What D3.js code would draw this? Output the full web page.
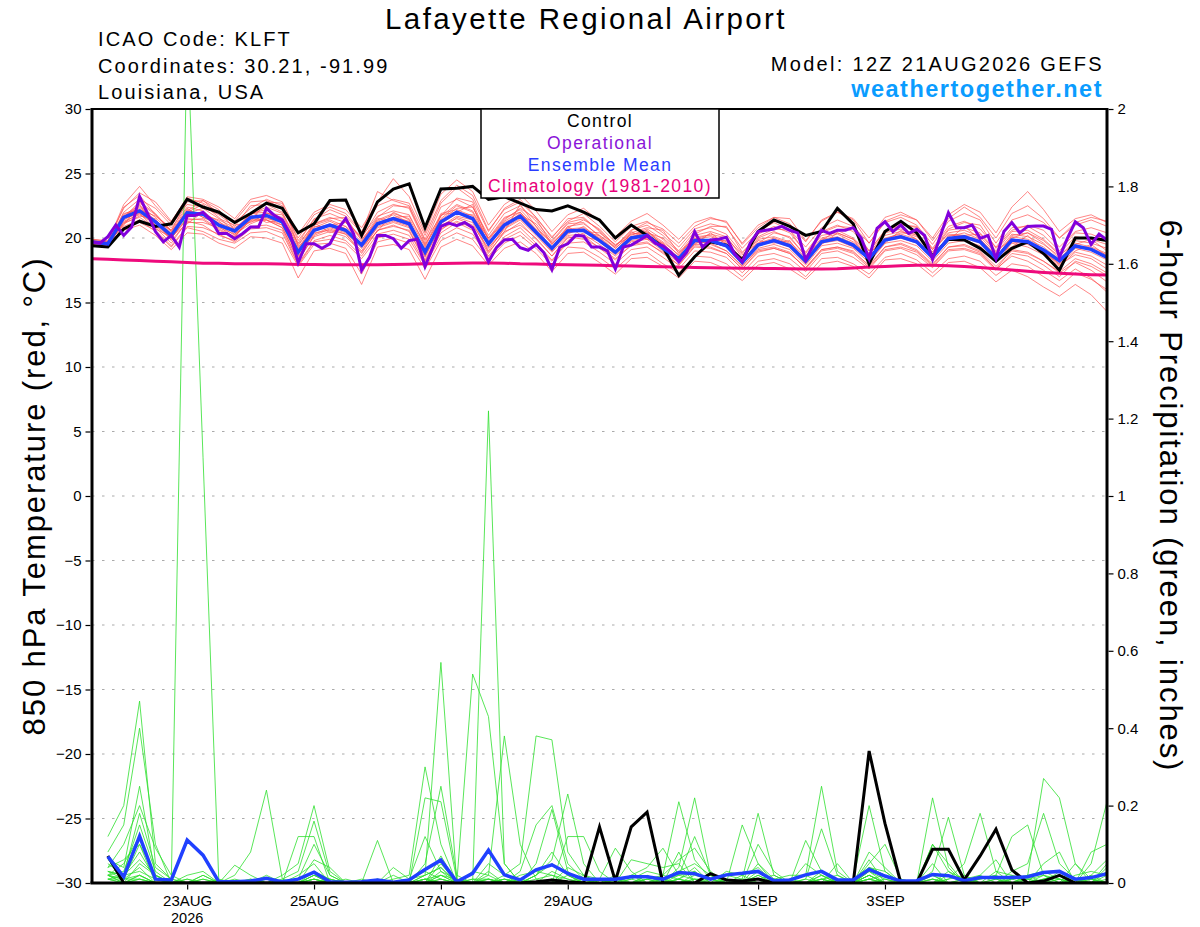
<!DOCTYPE html>
<html lang="en">
<head>
<meta charset="UTF-8" />
<title>Lafayette Regional Airport - GEFS</title>
<script src="https://d3js.org/d3.v7.min.js"></script>
<style>
  body { margin: 0; background: #fff; font-family: "Liberation Sans", Arial, sans-serif; }
  svg text { font-family: "Liberation Sans", Arial, sans-serif; }
</style>
</head>
<body>
<div id="chart"></div>
<script>
// ---- data (6-hourly from 21AUG2026 12Z unless noted) ----
var startTime = Date.UTC(2026, 7, 21, 12);
var endTime = Date.UTC(2026, 8, 6, 12);

var xTickDates = ["2026-08-23", "2026-08-25", "2026-08-27", "2026-08-29", "2026-09-01", "2026-09-03", "2026-09-05"];
var xTickLabels = ["23AUG", "25AUG", "27AUG", "29AUG", "1SEP", "3SEP", "5SEP"];
var tempTicks = [30, 25, 20, 15, 10, 5, 0, -5, -10, -15, -20, -25, -30];
var precipTicks = [2, 1.8, 1.6, 1.4, 1.2, 1, 0.8, 0.6, 0.4, 0.2, 0];

// 850 hPa temperature, control run
var tempControl = [19.4, 19.3,20.7,21.3,20.9, 21.1,23.0,22.4,22.0, 21.2,21.9,22.7,22.3, 20.4,21.1,22.9,22.95,
  20.2,22.8,23.8,24.2, 20.8,23.8,23.85,24.0, 23.0,23.2,22.7,22.2, 22.1,22.5,22.0,21.4, 20.0,21.0,20.2,19.3,
  17.1,18.55,19.7,19.45, 18.3,20.5,21.4,20.9, 20.2,20.5,22.3,21.1, 18.0,20.5,21.3,20.4, 18.6,19.9,19.85,19.2,
  18.2,19.2,19.7,18.8, 17.5,20.0,20.0,19.8];

// operational run, 3-hourly
var tempOperational = [19.7,19.6,20.1,21.0,20.2,20.85,23.2,21.9,
  20.5,19.7,20.2,19.3,21.75,21.75,22.0,21.4,
  20.35,20.35,19.95,20.35,20.85,20.85,22.3,21.75,
  21.4,20.3,18.1,19.55,19.55,19.2,19.55,20.7,
  21.5,20.3,17.5,18.5,20.2,20.2,19.95,19.2,
  19.8,19.9,17.8,19.3,20.9,21.15,20.95,21.2,
  20.8,19.5,18.15,19.25,19.85,19.9,19.25,19.05,
  19.5,18.85,17.55,19.3,19.55,20.2,20.15,19.3,
  19.3,19.0,17.6,19.3,19.45,19.8,20.2,19.6,
  19.4,18.9,18.15,18.9,20.5,19.3,19.85,19.9,
  20.05,18.8,18.15,19.6,20.5,20.6,20.7,20.9,
  20.6,20.4,18.3,19.5,20.6,20.36,20.6,20.6,
  20.8,20.0,18.4,20.75,21.26,20.5,21.0,20.36,
  20.67,20.2,18.35,20.2,21.96,20.8,20.8,21.0,
  19.97,20.2,18.4,20.5,21.2,20.4,20.9,20.93,
  20.93,20.67,18.5,19.97,21.26,20.8,19.5,20.3,
  19.84];

var tempMean = [19.7, 19.55,21.6,22.1,21.25, 20.2,21.95,21.85,21.0, 20.55,21.6,21.75,21.25, 18.9,20.6,21.0,20.6,
  19.45,21.1,21.5,21.1, 18.9,21.25,22.0,21.5, 19.55,21.0,21.7,20.45, 19.2,20.55,20.6,19.8, 18.9,20.0,20.2,19.2,
  18.4,19.8,19.8,19.4, 18.1,19.45,19.8,19.4, 18.2,19.7,19.95,19.45, 18.4,19.84,20.1,19.71, 18.5,19.97,20.1,19.71,
  18.42,19.84,19.71,19.07, 18.24,19.38,19.12,18.5];

var tempClimatology = [18.4, 18.35,18.3,18.25,18.2, 18.15,18.1,18.05,18.05, 18.0,18.0,18.0,17.98, 17.95,17.95,17.93,17.92,
  17.92,17.93,17.95,17.97, 18.0,18.02,18.05,18.07, 18.07,18.05,18.0,17.98, 17.95,17.93,17.9,17.88, 17.85,17.83,17.8,17.78,
  17.75,17.72,17.7,17.68, 17.66,17.65,17.63,17.62, 17.6,17.6,17.62,17.68, 17.75,17.8,17.85,17.88, 17.88,17.85,17.8,17.72,
  17.62,17.52,17.42,17.33, 17.26,17.2,17.16,17.13];

// perturbed ensemble members (red)
var tempMembers = [
  [19.8, 19.6,22.0,23.0,22.3, 21.0,22.6,22.4,21.8, 20.9,22.5,22.6,22.0, 19.6,21.5,21.9,21.4, 20.0,22.0,22.6,22.3, 19.6,22.4,23.0,22.4, 20.2,21.9,22.5,21.3, 19.8,21.2,21.5,20.6, 19.4,20.6,21.0,20.2, 19.0,20.5,20.8,20.3, 18.8,20.3,20.9,20.4, 18.9,20.5,21.0,20.5, 19.0,20.6,21.1,20.8, 19.2,20.9,21.3,20.7, 19.3,20.8,20.9,20.2, 19.0,20.4,20.3,19.8],
  [19.6, 19.4,21.2,21.6,20.8, 19.6,21.3,21.0,20.2, 19.8,20.9,21.0,20.6, 18.0,19.8,20.2,19.8, 18.6,20.3,20.6,20.2, 18.0,20.4,21.2,20.6, 18.6,20.1,20.8,19.6, 18.3,19.6,19.7,18.9, 18.0,19.1,19.3,18.5, 17.6,19.0,18.9,18.5, 17.3,18.6,18.8,18.4, 17.4,18.8,19.0,18.5, 17.6,19.0,19.2,18.7, 17.7,19.0,19.1,18.7, 17.5,18.8,18.6,17.9, 17.0,18.2,17.8,17.1],
  [19.9, 19.7,22.4,23.3,21.8, 20.6,22.8,22.9,21.9, 21.2,22.3,23.0,22.5, 19.8,21.4,22.2,21.7, 20.4,23.6,22.9,22.5, 19.9,22.7,23.9,23.0, 20.5,22.3,23.0,21.6, 20.1,21.3,21.9,20.9, 19.7,20.9,21.3,20.4, 19.3,20.7,21.1,20.8, 19.2,20.5,21.2,20.6, 19.3,20.8,21.4,20.9, 19.6,21.3,21.8,21.4, 19.8,21.5,22.4,21.6, 20.0,21.9,22.5,21.5, 20.0,21.0,21.4,20.9],
  [19.5, 19.3,20.9,21.4,20.5, 19.3,20.8,20.5,19.9, 19.6,20.4,20.5,20.0, 17.8,19.5,19.6,19.2, 17.2,19.7,20.0,19.6, 17.6,19.8,20.4,19.9, 18.3,19.6,20.2,19.2, 17.9,19.3,19.2,18.5, 17.6,18.7,18.9,18.0, 17.3,18.6,18.5,18.0, 17.0,18.2,18.4,18.0, 17.0,18.4,18.5,18.0, 17.2,18.5,18.8,18.3, 17.3,18.4,18.6,18.2, 17.1,18.0,17.8,17.0, 16.2,17.3,16.8,16.0],
  [19.7, 19.6,21.8,22.5,21.6, 20.4,22.2,21.6,21.2, 20.7,21.9,22.2,21.4, 19.2,21.0,21.4,20.9, 19.7,21.4,21.9,21.5, 19.3,21.7,22.6,22.1, 19.9,21.5,22.2,20.9, 19.5,20.9,21.1,20.2, 19.2,20.3,20.5,19.7, 18.7,20.1,20.2,19.7, 18.4,19.9,20.1,19.7, 18.5,20.0,20.3,19.7, 18.7,20.2,20.5,20.1, 18.9,20.4,20.6,20.1, 18.8,20.3,20.1,19.5, 18.6,19.8,19.6,19.2],
  [19.6, 19.5,21.4,22.0,21.0, 20.0,21.6,21.9,21.3, 20.3,21.3,21.4,21.0, 18.6,20.3,20.8,20.4, 19.2,20.8,21.2,20.8, 18.5,21.0,21.5,21.0, 19.2,20.7,21.4,20.2, 18.9,20.2,20.3,19.5, 18.6,19.7,19.9,19.0, 18.1,19.5,19.5,19.0, 17.8,19.2,19.5,19.1, 17.9,19.4,19.6,19.2, 18.1,19.6,19.8,19.4, 18.2,19.6,19.8,19.4, 18.1,19.6,19.3,18.7, 17.8,18.9,18.6,17.9],
  [19.8, 19.7,22.6,24.0,22.5, 21.2,23.2,23.0,22.4, 21.5,23.0,23.3,22.8, 20.3,22.0,22.6,22.2, 20.8,22.8,24.6,23.2, 20.4,23.4,24.5,23.6, 21.0,22.6,23.4,22.1, 20.5,21.8,22.3,21.3, 20.1,21.3,21.9,21.0, 19.9,21.2,21.6,21.2, 19.6,21.0,21.6,21.1, 19.7,21.4,22.0,21.5, 20.0,21.6,22.0,21.4, 20.0,21.8,22.6,22.0, 20.4,22.4,23.6,22.2, 20.5,21.5,21.8,21.2],
  [19.5, 19.4,20.6,21.0,20.2, 19.1,20.4,20.3,19.6, 19.2,20.1,20.0,19.6, 16.9,19.0,19.2,18.8, 16.4,19.3,19.5,19.1, 16.8,19.3,19.9,19.4, 17.9,19.2,19.7,18.8, 17.4,18.8,18.9,18.1, 17.2,18.4,18.5,17.8, 16.9,18.2,18.1,17.6, 16.7,17.9,18.1,17.6, 16.8,18.0,18.2,17.8, 16.9,18.3,18.4,18.0, 17.0,18.1,18.2,17.7, 16.6,17.5,17.0,16.2, 15.5,16.4,15.6,14.3],
  [19.7, 19.5,21.7,22.4,21.4, 20.3,21.9,22.3,21.5, 21.0,21.2,21.9,21.8, 19.3,20.5,21.0,21.2, 19.9,21.2,21.6,21.7, 19.5,21.4,22.3,22.4, 20.0,21.2,21.8,21.1, 19.6,20.7,20.5,20.4, 19.5,20.1,20.4,20.0, 18.9,19.9,20.3,20.0, 18.7,19.6,20.4,20.1, 18.6,19.8,20.6,20.0, 18.8,19.9,20.4,20.3, 19.1,20.3,20.2,20.3, 18.9,20.0,20.4,19.8, 18.7,19.5,19.9,19.0],
  [19.6, 19.4,21.3,21.8,21.1, 20.0,21.5,21.4,20.6, 20.1,21.5,21.4,20.8, 18.3,20.1,20.5,20.1, 18.9,20.6,21.0,20.5, 18.2,20.6,21.6,21.2, 18.9,20.4,21.2,19.9, 18.6,20.0,20.2,19.2, 18.3,19.5,19.7,18.8, 17.9,19.3,19.2,18.8, 17.6,19.0,19.2,18.8, 17.7,19.1,19.3,18.9, 17.9,19.3,19.6,19.1, 18.0,19.3,19.5,19.0, 17.8,19.0,18.8,18.2, 17.4,18.4,18.0,17.3],
  [19.8, 19.6,21.9,22.2,21.7, 20.8,22.4,22.1,21.1, 20.6,21.8,22.4,21.9, 19.5,21.1,21.6,21.2, 20.1,21.7,22.1,21.8, 19.4,21.9,22.2,21.7, 20.0,21.6,22.0,20.7, 19.7,21.1,21.2,20.1, 19.0,20.2,20.7,19.9, 18.6,20.2,20.5,20.1, 18.5,20.0,20.5,20.0, 18.6,20.2,20.4,19.9, 18.8,20.4,20.7,20.2, 18.9,20.6,20.8,20.4, 19.0,20.5,20.6,19.9, 18.8,20.1,19.9,19.5],
  [19.6, 19.5,21.1,21.7,21.5, 19.8,21.2,21.2,20.8, 20.3,21.1,21.6,21.0, 18.5,20.4,20.6,20.3, 19.0,20.9,21.3,20.9, 18.6,20.9,21.7,21.4, 19.0,20.8,21.5,20.3, 19.0,20.4,20.6,19.7, 18.7,19.8,20.0,19.3, 18.2,19.6,19.7,19.3, 18.0,19.4,19.7,19.3, 18.0,19.6,19.8,19.3, 18.3,19.8,20.0,19.6, 18.4,19.9,20.0,19.6, 18.3,19.7,19.5,18.9, 18.0,19.2,18.9,18.3],
  [19.7, 19.6,21.6,22.8,21.9, 20.5,22.1,21.8,21.4, 20.8,21.6,21.9,21.6, 19.0,20.8,21.3,20.7, 19.5,21.3,21.8,21.2, 19.0,21.5,22.5,22.0, 19.6,21.3,22.0,20.6, 19.3,20.7,20.8,20.0, 19.0,20.1,20.3,19.5, 18.5,19.9,20.1,19.6, 18.3,19.6,20.0,19.6, 18.3,19.9,20.1,19.6, 18.5,20.0,20.3,19.9, 18.6,20.1,20.4,19.9, 18.5,20.1,19.9,19.3, 18.3,19.4,19.2,18.7],
  [19.5, 19.6,21.0,22.6,20.9, 19.9,22.0,22.6,21.6, 20.4,21.8,21.2,21.4, 18.7,21.2,20.4,20.9, 19.3,20.5,22.0,21.4, 18.7,21.8,22.0,22.6, 19.3,20.5,22.6,20.9, 19.1,20.9,20.1,19.8, 18.8,20.5,19.9,19.6, 18.3,19.5,20.4,19.5, 17.9,19.8,19.6,19.8, 18.1,19.5,20.4,19.9, 18.3,19.6,20.6,19.9, 18.6,19.8,20.9,19.9, 18.7,19.3,20.2,19.0, 18.0,19.0,19.5,18.6],
  [19.8, 19.5,21.5,21.9,20.7, 20.1,21.1,22.0,20.9, 20.0,21.9,22.0,21.2, 19.1,20.9,20.9,20.5, 19.6,21.5,21.4,21.0, 19.2,21.1,21.9,21.8, 19.4,21.1,21.6,20.4, 19.2,20.3,20.9,19.9, 18.9,19.9,20.6,19.4, 18.4,20.0,19.8,19.8, 18.2,19.4,19.9,19.5, 18.4,19.7,19.9,19.5, 18.5,19.9,20.2,19.6, 18.5,20.2,20.2,19.8, 18.6,19.8,19.6,18.9, 17.9,18.7,18.4,17.6],
  [19.6, 19.4,21.7,22.3,21.3, 20.6,22.3,21.6,21.0, 20.2,22.0,21.5,21.3, 18.8,20.7,21.1,20.6, 19.3,21.0,21.6,21.3, 18.8,21.3,22.1,21.4, 19.4,21.0,21.9,20.6, 19.0,20.6,20.7,19.9, 18.8,20.0,20.1,19.2, 18.2,19.7,19.9,19.5, 18.1,19.5,19.9,19.5, 18.2,19.8,20.0,19.5, 18.4,19.9,20.1,19.7, 18.4,20.0,20.1,19.7, 18.4,20.2,20.4,19.6, 18.4,19.6,19.3,18.8],
  [19.9, 19.8,22.3,23.5,22.8, 21.3,23.1,22.7,22.0, 21.3,22.8,22.9,22.3, 20.0,21.8,22.4,21.9, 20.5,22.5,23.0,22.7, 20.2,22.9,24.1,23.3, 20.6,22.2,22.8,21.6, 20.0,21.5,21.6,20.5, 19.2,20.3,20.4,19.6, 18.3,19.7,19.6,19.0, 17.8,19.1,19.3,18.9, 17.6,19.0,19.2,18.8, 17.7,19.1,19.3,18.9, 17.8,19.1,19.2,18.8, 17.6,18.6,18.2,17.5, 16.7,17.6,16.9,15.8],
  [19.5, 19.3,20.8,21.2,20.6, 19.4,20.9,20.8,20.3, 19.7,20.7,20.8,20.4, 17.9,19.7,19.9,19.6, 18.4,20.0,20.3,19.9, 17.9,20.1,20.8,20.3, 18.5,19.9,20.5,19.4, 18.2,19.8,20.4,20.2, 19.3,20.6,21.2,20.7, 19.6,20.9,21.5,21.3, 19.5,20.8,21.6,21.5, 19.8,21.3,22.0,21.4, 19.6,21.2,21.6,21.0, 19.5,21.3,21.9,21.4, 19.6,21.4,21.8,21.2, 20.0,21.2,21.6,21.3],
  [19.7, 19.5,21.5,22.7,21.8, 20.5,22.1,22.9,22.2, 20.6,21.3,22.8,22.7, 19.4,21.1,21.5,21.6, 19.8,21.6,22.5,22.4, 19.8,21.7,23.1,22.8, 19.8,21.4,22.3,21.5, 19.5,20.8,21.4,20.7, 19.4,20.4,20.8,20.6, 18.8,20.3,20.9,20.9, 18.9,20.1,20.7,20.6, 18.8,20.4,20.9,20.8, 19.0,20.5,21.0,20.9, 19.1,20.7,21.2,21.0, 19.2,20.6,21.0,20.6, 19.3,20.5,20.8,20.4],
  [19.6, 19.5,21.2,21.9,21.2, 20.1,21.4,21.5,20.7, 20.1,21.4,21.4,20.8, 18.2,20.2,20.7,20.3, 18.8,20.6,20.9,20.6, 18.3,20.7,21.3,20.8, 18.8,20.5,21.0,20.0, 18.6,20.1,19.9,19.3, 18.4,19.4,19.6,18.9, 17.9,19.4,19.3,18.8, 17.6,18.9,19.2,18.8, 17.7,19.1,19.3,19.0, 17.8,19.3,19.5,19.0, 17.9,19.3,19.4,18.9, 17.6,19.1,18.9,18.2, 17.3,18.1,17.5,16.6]
];

// 6-hour precipitation (inches), periods ending 21AUG 18Z ... 6SEP 12Z
var precipControl = [0.07,0,0,0, 0,0,0,0, 0,0,0,0, 0,0,0,0, 0,0,0,0, 0,0,0,0, 0,0,0,0.003,
  0.008,0.003,0,0.145, 0.005,0.145,0.183,0, 0,0,0.024,0.008, 0.005,0.01,0,0, 0,0,0,0,
  0.341,0.154,0,0, 0.087,0.087,0.008,0.07, 0.139,0.034,0,0.005, 0.02,0,0,0];

var precipMean = [0.068,0.016,0.121,0.01, 0.008,0.111,0.072,0.003, 0.003,0.005,0.012,0.003, 0.01,0.028,0.003,0.002,
  0.003,0.008,0.002,0.008, 0.035,0.059,0.003,0.025, 0.085,0.021,0.008,0.034, 0.047,0.025,0.01,0.01,
  0.01,0.016,0.016,0.01, 0.027,0.024,0.01,0.021, 0.025,0.03,0.006,0.008, 0.021,0.03,0.008,0.008,
  0.035,0.018,0.005,0.006, 0.022,0.019,0.006,0.014, 0.014,0.014,0.016,0.027, 0.03,0.01,0.014,0.024];

var precipMembers = [
  [.12,.2,.47,.05, .01,0,0,0, .02,.08,.24,.01, 0,.01,0,0, 0,0,.01,.02, .3,.1,0,0, .01,0,.02,.03, .02,.01,0,0, 0,.01,.03,.02, .21,.06,.01,0, 0,.02,0,0, .01,0,0,0, .02,0,.01,0, 0,.01,.02,0, .01,0,.02,.27, .22,.05,.01,0],
  [.08,.15,.4,.1, 0,2.2,1.1,0, 0,0,.01,0, .02,.05,0,0, 0,.01,0,0, .02,.57,0,.01, 0,.01,0,0, 0,0,.01,0, 0,0,0,.01, .02,.03,0,0, .01,0,0,.01, .02,.25,.03,0, .01,0,0,0, .01,0,0,0, 0,.01,.02,.03, .01,0,.05,.21],
  [.06,.04,.25,.02, 0,.02,.03,0, 0,.01,0,.02, .05,.2,.03,0, 0,0,0,.01, .02,.04,0,.54, .43,.05,0,.01, .02,0,0,.01, 0,0,.02,0, .03,.05,.02,0, 0,0,.01,.02, .02,0,0,.01, .2,.03,0,0, .22,.04,0,.02, 0,0,.01,0, .02,.01,0,.03],
  [.03,.02,.18,.04, .01,0,0,.01, 0,0,.02,0, 0,.02,.01,0, 0,0,0,0, 0,.03,.01,0, 1.22,.05,0,0, .01,0,0,0, .02,0,.01,0, .04,.22,.02,0, 0,.01,0,0, 0,.01,.02,0, .03,.01,0,0, 0,.01,.05,.18, .03,0,0,.01, .02,0,0,.01],
  [.02,.05,.12,.01, 0,0,.02,0, 0,0,0,.01, .03,.16,.02,0, 0,0,.02,0, .01,.02,0,.03, .02,.38,.1,.01, 0,0,0,.01, 0,.01,0,0, .01,0,.01,.02, .01,.18,.02,0, 0,0,0,0, .01,.02,0,0, .02,0,0,.01, .02,.12,.15,.02, 0,0,.01,0],
  [.04,.1,.2,.09, .02,0,0,0, 0,0,0,0, 0,.01,0,.01, 0,0,0,0, 0,.02,.01,0, 0,.02,.05,.38, .37,.08,.02,0, 0,0,.01,.02, .01,0,0,.01, 0,.02,0,0, .01,.14,.02,0, 0,0,0,0, .01,0,0,0, 0,0,.01,.02, .01,0,.08,.1],
  [.02,.03,.15,.03, 0,.01,0,0, 0,0,.01,0, 0,0,.01,0, 0,.11,0,0, .01,0,0,0, .01,0,0,.02, .06,.23,.05,0, .01,0,0,.01, 0,.02,.01,0, .15,.05,.01,0, 0,0,0,.01, .04,.02,0,0, .03,.17,.02,0, 0,0,0,.01, .02,0,0,0],
  [.05,.02,.08,.01, 0,0,0,0, 0,0,0,0, .12,.12,0,0, 0,0,0,0, .05,.25,.02,0, .01,0,0,.05, .19,.03,0,0, 0,0,0,0, .01,.03,0,0, 0,.01,.02,0, 0,.02,0,0, .05,.1,.01,0, 0,0,.01,0, 0,.03,.05,.18, .05,.01,0,.02],
  [.02,.01,.1,0, 0,0,.02,0, 0,0,0,0, 0,.02,0,0, 0,0,0,0, .22,.21,.01,0, .02,0,.03,.15, .2,.05,.01,0, 0,.02,0,0, 0,.01,.01,0, 0,0,0,0, .11,.03,0,0, .02,0,0,0, .1,.03,0,0, 0,0,0,0, 0,.02,.03,.02],
  [.03,.02,.06,.02, 0,0,0,0, 0,.01,0,0, 0,.03,.01,0, 0,0,0,0, 0,.05,0,0, 0,.01,0,0, 0,.12,.12,.03, 0,.02,.04,.09, .02,.12,.02,0, 0,0,0,0, 0,.01,0,0, .03,0,0,0, 0,0,.01,.02, .06,0,0,0, 0,.01,0,0],
  [.01,.01,.04,0, 0,0,.01,0, .046,.02,0,0, 0,0,0,0, 0,0,0,0, 0,.07,0,0, 0,0,.01,0, 0,0,.02,.01, .09,.03,0,0, 0,0,0,0, 0,0,.01,0, 0,0,.05,0, .01,0,0,0, 0,.02,0,0, 0,.02,.01,0, 0,.05,0,0],
  [.02,0,.05,.02, 0,0,.01,0, 0,0,0,0, .01,.1,.02,0, 0,0,0,.01, .03,.01,0,0, .05,.02,0,0, 0,.04,.02,0, 0,.06,.05,.04, .05,0,0,0, .02,.04,0,0, 0,.03,0,0, .08,.04,0,0, .02,0,0,0, .01,0,0,0, .03,0,0,.04],
  [.01,.02,.03,.01, 0,0,0,0, .01,0,0,0, 0,0,0,0, 0,.01,0,0, .01,0,0,0, 0,0,0,.02, .08,.02,0,0, 0,0,0,0, .02,.01,0,.03, .02,0,.01,0, 0,.01,0,0, .04,.02,0,0, 0,.03,.01,0, 0,.01,0,0, .01,0,.02,0],
  [.01,0,.02,0, 0,0,0,0, 0,0,0,0, 0,.06,.04,0, 0,0,0,0, 0,.01,0,0, 0,.01,0,0, 0,0,0,0, .01,0,.02,0, .08,0,0,0, 0,.1,.03,0, 0,.02,0,0, 0,.01,0,0, .05,0,0,0, 0,0,0,.01, .02,0,.01,0],
  [.03,.01,.02,0, 0,0,0,0, 0,0,0,0, 0,0,0,0, .01,0,0,0, 0,.02,0,.01, .01,0,0,0, .03,.01,0,0, 0,0,0,0, .01,.04,0,0, 0,0,0,0, 0,0,.01,0, .06,0,0,0, 0,0,0,.01, .02,0,0,0, 0,0,0,.05],
  [.02,.01,.01,0, 0,0,0,0, 0,0,0,0, 0,.02,0,0, 0,0,0,0, .02,.04,0,0, .03,0,0,0, .01,0,0,0, 0,0,0,0, 0,.01,0,0, 0,0,0,.01, 0,0,0,0, .02,0,0,0, .01,0,0,0, 0,0,.02,0, 0,.01,0,0],
  [.01,0,.02,0, 0,0,0,0, 0,0,0,0, 0,0,0,0, 0,0,0,0, 0,.01,0,0, 0,0,0,0, 0,.02,0,0, 0,0,.01,0, 0,0,0,0, 0,.03,0,0, 0,0,0,0, .01,0,0,0, 0,0,0,0, 0,0,0,.02, 0,0,0,0],
  [.02,0,.01,0, 0,0,0,0, 0,0,0,0, 0,.01,0,0, 0,0,0,0, 0,0,0,0, 0,0,.01,0, 0,0,0,0, 0,0,0,0, .01,0,0,0, 0,0,0,0, 0,.01,0,0, 0,0,0,0, 0,0,0,0, 0,0,0,0, .01,0,0,0],
  [0,0,.01,0, 0,0,0,0, 0,0,0,0, 0,0,0,0, 0,0,0,0, .01,0,0,0, 0,0,0,0, 0,0,0,0, 0,0,0,0, 0,0,0,0, 0,0,0,0, 0,0,0,0, .02,0,0,0, 0,0,0,0, 0,0,0,0, 0,0,0,0],
  [.04,.06,.1,.02, 0,.01,0,0, 0,0,0,0, 0,.01,0,0, 0,0,.04,.01, .12,.03,0,0, 0,0,0,.02, .05,.02,0,0, 0,0,0,.02, .06,.09,.03,0, 0,.05,0,0, .05,.02,0,0, .04,.03,0,0, .1,.05,0,0, .03,.02,0,.05, .08,0,.02,.06]
];

// ---- layout ----
var w = 1200, h = 927;
var plotLeft = 92, plotRight = 1107, plotTop = 109, plotBottom = 883;

var svg = d3.select("#chart").append("svg")
    .attr("width", w)
    .attr("height", h)
    .style("display", "block");

svg.append("rect").attr("width", w).attr("height", h).attr("fill", "#fff");

var x = d3.scaleUtc()
    .domain([new Date(startTime), new Date(endTime)])
    .range([plotLeft, plotRight]);
var yT = d3.scaleLinear().domain([-30, 30]).range([plotBottom, plotTop]);
var yP = d3.scaleLinear().domain([0, 2]).range([plotBottom, plotTop]);

function timeAt(i, stepHours) {
    return new Date(startTime + i * stepHours * 3600 * 1000);
}

// clip region for data
svg.append("clipPath").attr("id", "plotClip")
    .append("rect")
    .attr("x", plotLeft).attr("y", plotTop)
    .attr("width", plotRight - plotLeft).attr("height", plotBottom - plotTop);

// dotted grid lines on the temperature ticks
svg.append("g").selectAll("line")
    .data(tempTicks.filter(function(d) { return d > -30 && d < 30; }))
    .enter().append("line")
    .attr("x1", plotLeft).attr("x2", plotRight)
    .attr("y1", function(d) { return yT(d); })
    .attr("y2", function(d) { return yT(d); })
    .attr("stroke", "#aaa")
    .attr("stroke-width", 1.2)
    .attr("stroke-dasharray", "2.5,7.5");

var dataG = svg.append("g").attr("clip-path", "url(#plotClip)");

// line generators
var tempLine6h = d3.line()
    .x(function(d, i) { return x(timeAt(i, 6)); })
    .y(function(d) { return yT(d); });
var tempLine3h = d3.line()
    .x(function(d, i) { return x(timeAt(i, 3)); })
    .y(function(d) { return yT(d); });
var precipLine = d3.line()
    .x(function(d, i) { return x(timeAt(i + 1, 6)); })
    .y(function(d) { return yP(d); });

// ensemble members
dataG.append("g").selectAll("path")
    .data(tempMembers)
    .enter().append("path")
    .attr("d", tempLine6h)
    .attr("fill", "none")
    .attr("stroke", "#ff4d4d")
    .attr("stroke-width", 0.8)
    .attr("stroke-opacity", 0.85);

dataG.append("g").selectAll("path")
    .data(precipMembers)
    .enter().append("path")
    .attr("d", precipLine)
    .attr("fill", "none")
    .attr("stroke", "#2ee02e")
    .attr("stroke-width", 0.8);

// climatology, control, mean, operational
dataG.append("path").datum(tempClimatology)
    .attr("d", tempLine6h).attr("fill", "none")
    .attr("stroke", "#ee0a7c").attr("stroke-width", 3);

dataG.append("path").datum(precipControl)
    .attr("d", precipLine).attr("fill", "none")
    .attr("stroke", "#000").attr("stroke-width", 3);
dataG.append("path").datum(precipMean)
    .attr("d", precipLine).attr("fill", "none")
    .attr("stroke", "#2040ff").attr("stroke-width", 3.5);

dataG.append("path").datum(tempControl)
    .attr("d", tempLine6h).attr("fill", "none")
    .attr("stroke", "#000").attr("stroke-width", 3);
dataG.append("path").datum(tempMean)
    .attr("d", tempLine6h).attr("fill", "none")
    .attr("stroke", "#2040ff").attr("stroke-width", 3.5);
dataG.append("path").datum(tempOperational)
    .attr("d", tempLine3h).attr("fill", "none")
    .attr("stroke", "#8200dc").attr("stroke-width", 3);

// frame
svg.append("line").attr("x1", plotLeft).attr("x2", plotRight).attr("y1", plotTop).attr("y2", plotTop)
    .attr("stroke", "#000").attr("stroke-width", 2);
svg.append("line").attr("x1", plotLeft - 1.5).attr("x2", plotRight + 1.5).attr("y1", plotBottom).attr("y2", plotBottom)
    .attr("stroke", "#000").attr("stroke-width", 3);
svg.append("line").attr("x1", plotLeft).attr("x2", plotLeft).attr("y1", plotTop - 1).attr("y2", plotBottom)
    .attr("stroke", "#000").attr("stroke-width", 3);
svg.append("line").attr("x1", plotRight).attr("x2", plotRight).attr("y1", plotTop - 1).attr("y2", plotBottom)
    .attr("stroke", "#000").attr("stroke-width", 3);

// axes
var leftAxis = svg.append("g")
    .attr("transform", "translate(" + (plotLeft - 1.5) + ",0)")
    .call(d3.axisLeft(yT).tickValues(tempTicks).tickSize(5).tickPadding(4));
var rightAxis = svg.append("g")
    .attr("transform", "translate(" + (plotRight + 1.5) + ",0)")
    .call(d3.axisRight(yP).tickValues(precipTicks).tickSize(5).tickPadding(4)
        .tickFormat(function(d) { return String(+d.toFixed(1)); }));
var bottomAxis = svg.append("g")
    .attr("transform", "translate(0," + (plotBottom + 1.5) + ")")
    .call(d3.axisBottom(x)
        .tickValues(xTickDates.map(function(s) { return new Date(s + "T00:00:00Z"); }))
        .tickSize(5).tickPadding(6)
        .tickFormat(function(d, i) { return xTickLabels[i]; }));

[leftAxis, rightAxis, bottomAxis].forEach(function(g) {
    g.select(".domain").remove();
    g.selectAll(".tick line").attr("stroke", "#000").attr("stroke-width", 1.2);
    g.selectAll(".tick text").attr("fill", "#000")
        .style("font-size", "15px")
        .style("font-family", "'Liberation Sans', Arial, sans-serif");
});

svg.append("text")
    .attr("x", x(new Date(xTickDates[0] + "T00:00:00Z")))
    .attr("y", 923)
    .attr("text-anchor", "middle")
    .style("font-size", "14.5px")
    .text("2026");

// axis titles
svg.append("text")
    .attr("transform", "translate(45,496) rotate(-90)")
    .attr("text-anchor", "middle")
    .style("font-size", "31px")
    .style("letter-spacing", "1.9px")
    .text("850 hPa Temperature (red, °C)");
svg.append("text")
    .attr("transform", "translate(1160,496) rotate(90)")
    .attr("text-anchor", "middle")
    .style("font-size", "31px")
    .style("letter-spacing", "1.9px")
    .text("6-hour Precipitation (green, inches)");

// titles
svg.append("text").attr("x", 586).attr("y", 29).attr("text-anchor", "middle")
    .style("font-size", "29.5px").style("letter-spacing", "2.4px")
    .text("Lafayette Regional Airport");

var infoLines = ["ICAO Code: KLFT", "Coordinates: 30.21, -91.99", "Louisiana, USA"];
svg.append("g").selectAll("text")
    .data(infoLines).enter().append("text")
    .attr("x", 98)
    .attr("y", function(d, i) { return 46 + i * 26.7; })
    .style("font-size", "20px")
    .style("letter-spacing", "2.1px")
    .text(function(d) { return d; });

svg.append("text").attr("x", 1104).attr("y", 71).attr("text-anchor", "end")
    .style("font-size", "20px").style("letter-spacing", "2.3px")
    .text("Model: 12Z 21AUG2026 GEFS");
svg.append("text").attr("x", 1103).attr("y", 97).attr("text-anchor", "end")
    .style("font-size", "23.5px").style("font-weight", "bold").style("letter-spacing", "1.5px")
    .attr("fill", "#0a9cff").text("weathertogether.net");

// legend
var legendItems = ["Control", "Operational", "Ensemble Mean", "Climatology (1981-2010)"];
var legendColors = ["#000", "#8a14d8", "#2a3cff", "#e8007a"];
svg.append("rect")
    .attr("x", 481).attr("y", plotTop).attr("width", 238).attr("height", 89)
    .attr("fill", "#fff").attr("stroke", "#000").attr("stroke-width", 1.5);
svg.append("g").selectAll("text")
    .data(legendItems).enter().append("text")
    .attr("x", 600)
    .attr("y", function(d, i) { return 127 + i * 21.8; })
    .attr("text-anchor", "middle")
    .attr("fill", function(d, i) { return legendColors[i]; })
    .style("font-size", "17.5px")
    .style("letter-spacing", "1.4px")
    .text(function(d) { return d; });
</script>
</body>
</html>
